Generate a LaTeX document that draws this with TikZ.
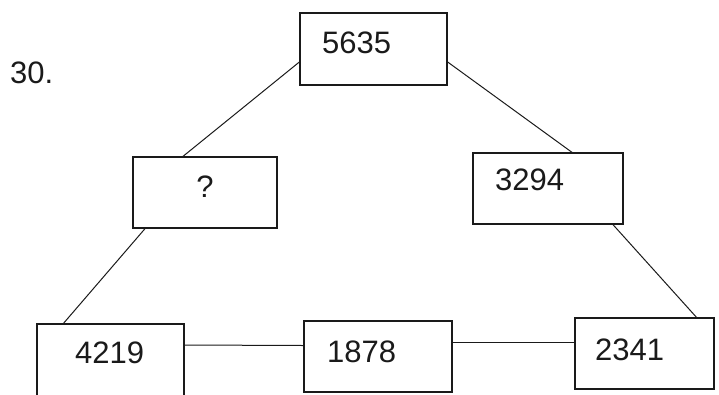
\documentclass[tikz,border=0pt]{standalone}
\usepackage{fontspec}
\setmainfont{Liberation Sans}
\usetikzlibrary{positioning,calc}
\definecolor{inkgrey}{HTML}{1A1A1A}
\tikzset{
  numbox/.style={
    draw=inkgrey, line width=1.3pt, inner sep=0pt,
    minimum width=147pt, minimum height=72pt,
  },
  numtext/.style={font=\fontsize{31}{36}\selectfont, text=inkgrey,
                  inner sep=0pt, anchor=west},
  link/.style={draw=inkgrey, line width=1pt},
}

\begin{document}
\begin{tikzpicture}[x=1pt, y=-1pt]
\useasboundingbox (0,0) rectangle (719,394);
\clip (0,0) rectangle (719,394);

% ---------------------------------------------------------------- number
\node[numtext] (qnum) at (10,73) {30.};

% ---------------------------------------------------------------- boxes
\node[numbox] (top) at (373.5,49) {};
\node[numbox, minimum width=144pt, minimum height=71pt] (mid) at (205,192.5) {};
\node[numbox, minimum width=150pt, minimum height=71pt] (right) at (548,188.5) {};
\node[numbox] (lower) at (110.5,360) {};
\node[numbox, minimum width=148pt, minimum height=71pt] (centre) at (378,356.5) {};
\node[numbox, minimum width=139pt, minimum height=71pt] (last) at (644.5,353.5) {};

% ---------------------------------------------------------------- values
\node[numtext] (ttop) at (322,43) {5635};
\node[numtext, anchor=center] (tmid) at (205,187) {?};
\node[numtext] (tright) at (495,180) {3294};
\node[numtext] (tlower) at (75,353) {4219};
\node[numtext] (tcentre) at (327,352) {1878};
\node[numtext] (tlast) at (595,350) {2341};

% ---------------------------------------------------------------- edges
\draw[link] ([yshift=-13pt]top.west) -- ([xshift=-22pt]mid.north);
\draw[link] ([yshift=-13pt]top.east) -- ([xshift=24pt]right.north);
\draw[link] ([xshift=-60pt]mid.south) -- ([xshift=-47pt]lower.north);
\draw[link] ([xshift=65pt]right.south) -- ([xshift=52pt]last.north);
\draw[link] ([yshift=15pt]lower.east) -- ([yshift=11pt]centre.west);
\draw[link] ([yshift=14pt]centre.east) -- ([yshift=11pt]last.west);

\end{tikzpicture}
\end{document}
